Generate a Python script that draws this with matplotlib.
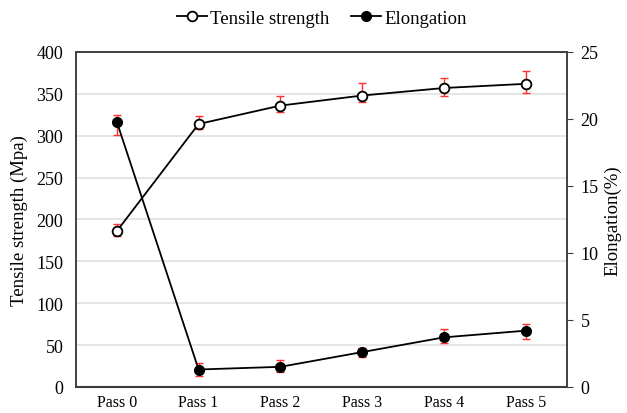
import numpy as np
import matplotlib.pyplot as plt

plt.rcParams['font.family'] = ['Liberation Serif', 'DejaVu Serif']

passes = ['Pass 0', 'Pass 1', 'Pass 2', 'Pass 3', 'Pass 4', 'Pass 5']

tensile = [186, 314, 336, 348, 357, 362]
tensile_err_up = [8, 10, 11, 15, 12, 15]
tensile_err_down = [6, 6, 8, 8, 10, 11]

elong = [19.8, 1.3, 1.5, 2.6, 3.7, 4.2]
elong_err_up = [0.5, 0.5, 0.5, 0.3, 0.6, 0.5]
elong_err_down = [1.0, 0.5, 0.35, 0.4, 0.4, 0.6]

frame_col = '#404040'
err_col = '#ff3030'

fig = plt.figure(figsize=(6.27, 4.14), dpi=100)
ax = fig.add_axes([0.121, 0.063, 0.783, 0.809])
ax2 = ax.twinx()

x = np.arange(len(passes))

ax.errorbar(x, tensile, yerr=[tensile_err_down, tensile_err_up], fmt='none',
            ecolor=err_col, elinewidth=1, capsize=3, capthick=1, zorder=2)
l1, = ax.plot(x, tensile, color='black', lw=1.3, marker='o', ms=7,
              mfc='white', mec='black', mew=1.3, zorder=3, label='Tensile strength')

ax2.errorbar(x, elong, yerr=[elong_err_down, elong_err_up], fmt='none',
             ecolor=err_col, elinewidth=1, capsize=3, capthick=1, zorder=2)
l2, = ax2.plot(x, elong, color='black', lw=1.3, marker='o', ms=7,
               mfc='black', mec='black', zorder=3, label='Elongation')

ax.set_xlim(-0.5, 5.5)
ax.set_ylim(0, 400)
ax.set_yticks(np.arange(0, 401, 50))
ax2.set_ylim(0, 25)
ax2.set_yticks(np.arange(0, 26, 5))
ax.set_xticks(x)
ax.set_xticklabels(passes)

ax.yaxis.grid(True, color='#e0e0e0', lw=1.2)
ax.set_axisbelow(True)

for a in (ax, ax2):
    for s in a.spines.values():
        s.set_color(frame_col)
        s.set_linewidth(1.2)
ax.spines['bottom'].set_color('#262626')
ax.spines['bottom'].set_linewidth(1.5)

ax.tick_params(axis='x', length=0, labelsize=11.5, pad=5)
ax.tick_params(axis='y', length=0, labelsize=13, pad=9)
ax2.tick_params(axis='y', length=4, direction='out', color=frame_col,
                labelsize=13, pad=6)

ax.set_ylabel('Tensile strength (Mpa)', fontsize=13.5, labelpad=6)
ax2.set_ylabel('Elongation(%)', fontsize=13.5, labelpad=4)

fig.legend(handles=[l1, l2], loc='upper center', bbox_to_anchor=(0.513, 1.015),
           ncol=2, frameon=False, fontsize=13.5, handlelength=1.6,
           handletextpad=0.15, columnspacing=1.2)

fig.savefig('out.png', dpi=100)
